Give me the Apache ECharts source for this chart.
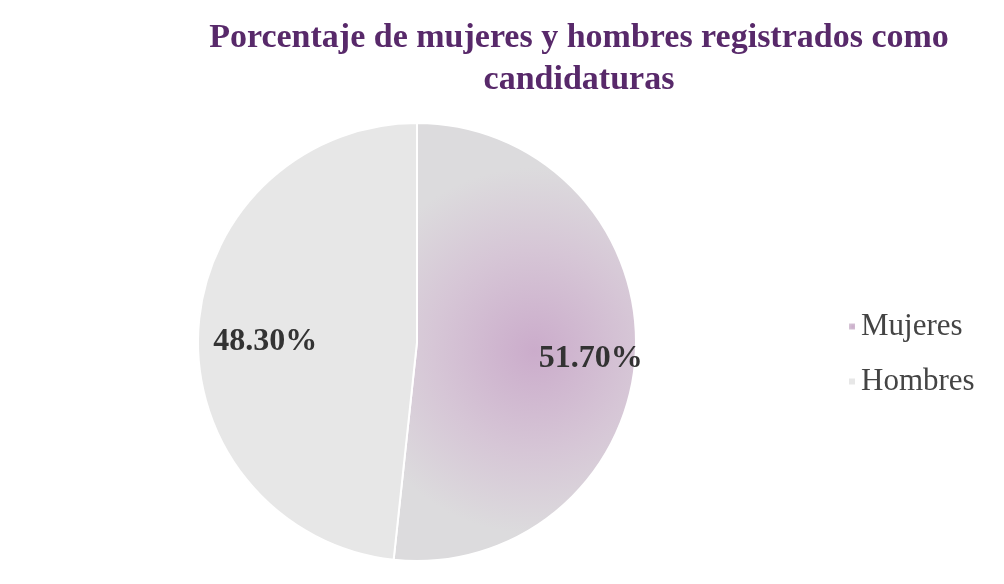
<!DOCTYPE html>
<html>
<head>
<meta charset="utf-8">
<script src="https://cdn.jsdelivr.net/npm/echarts@6/dist/echarts.min.js"></script>
<style>
  html, body { margin: 0; padding: 0; background: #fff; }
  #chart { width: 1004px; height: 584px; }
</style>
</head>
<body>
<div id="chart"></div>
<script>
var categories = ['Mujeres', 'Hombres'];
var values = [51.7, 48.3];
var labels = ['51.70%', '48.30%'];

var colorList = [
  new echarts.graphic.RadialGradient(0.58, 0.52, 0.75, [
    { offset: 0, color: '#cbaccb' },
    { offset: 0.55, color: '#d6c6d6' },
    { offset: 1, color: '#dcdbdd' }
  ]),
  '#e7e7e7'
];

var pieData = [];
for (var i = 0; i < categories.length; i++) {
  pieData.push({ name: categories[i], value: values[i] });
}

var option = {
  backgroundColor: '#fff',
  title: {
    text: 'Porcentaje de mujeres y hombres registrados como\ncandidaturas',
    left: 574,
    top: 12,
    textAlign: 'center',
    textStyle: {
      fontFamily: 'Liberation Serif',
      fontWeight: 'bold',
      fontSize: 34,
      lineHeight: 42,
      color: '#58296a'
    }
  },
  legend: {
    orient: 'vertical',
    left: 842,
    top: 306,
    icon: 'rect',
    itemWidth: 8,
    itemHeight: 8,
    itemGap: 24,
    data: categories,
    textStyle: {
      fontFamily: 'Liberation Serif',
      fontSize: 31,
      color: '#444'
    }
  },
  color: ['#c9a8c9', '#dedede'],
  series: [
    {
      name: 'pie',
      type: 'pie',
      radius: 219,
      center: [417, 342],
      startAngle: 90,
      clockwise: true,
      label: { show: false },
      labelLine: { show: false },
      emphasis: { disabled: true },
      itemStyle: {
        borderColor: '#fff',
        borderWidth: 2,
        color: function (params) {
          return colorList[params.dataIndex];
        }
      },
      data: pieData
    },
    {
      name: 'labels',
      type: 'pie',
      radius: [100, 220],
      center: [428, 350],
      startAngle: 90,
      clockwise: true,
      silent: true,
      legendHoverLink: false,
      itemStyle: { color: 'rgba(0,0,0,0)' },
      label: {
        show: true,
        position: 'inside',
        formatter: function (params) {
          return labels[params.dataIndex];
        },
        fontFamily: 'Liberation Serif',
        fontWeight: 'bold',
        fontSize: 32,
        color: '#333'
      },
      labelLine: { show: false },
      data: pieData
    }
  ]
};

var chart = echarts.init(document.getElementById('chart'));
chart.setOption(option);
</script>
</body>
</html>
